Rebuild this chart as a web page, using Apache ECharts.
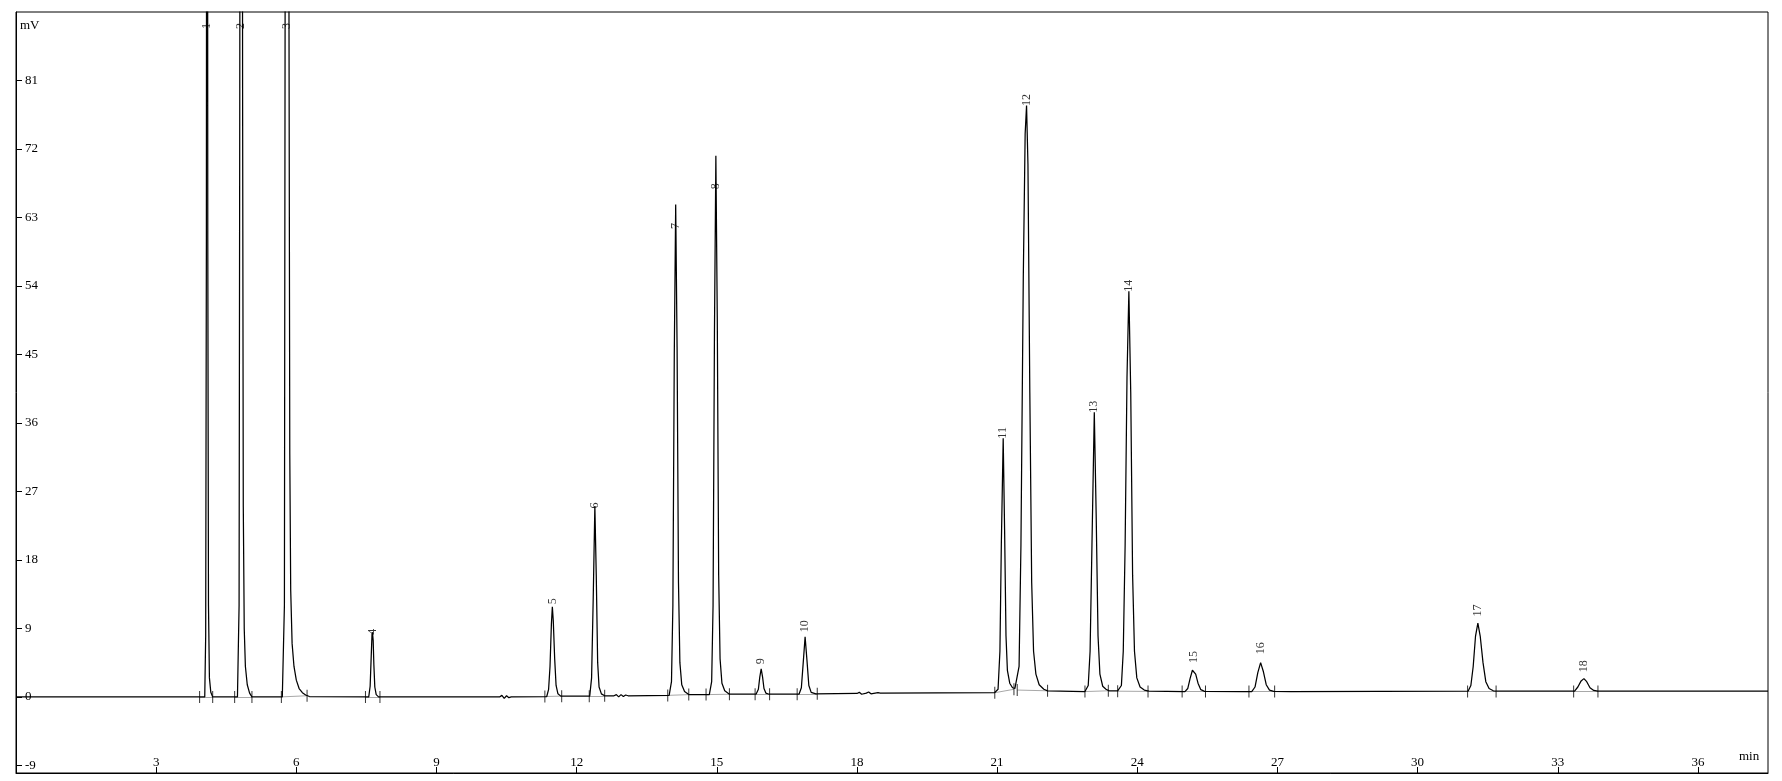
<!DOCTYPE html>
<html><head><meta charset="utf-8">
<script src="https://cdn.jsdelivr.net/npm/echarts@6/dist/echarts.min.js"></script>
<style>html,body{margin:0;padding:0;background:#fff}#c{width:1782px;height:781px}</style>
</head><body><div id="c"></div>
<script>
// detector signal: [retention time (min), signal (mV)]
const signal = [
[0,0],[3.9,0],[4.04,0],[4.06,8],[4.075,60],[4.09,260],[4.105,60],[4.12,12],[4.14,2.5],[4.17,0.6],[4.21,0],
[4.74,0],[4.775,12],[4.79,80],[4.82,300],[4.85,80],[4.865,25],[4.885,9],[4.91,4],[4.95,1.6],[5.0,0.5],[5.05,0],
[5.70,0],[5.745,12],[5.76,90],[5.80,420],[5.84,100],[5.86,32],[5.88,14],[5.91,7],[5.95,4],[6.0,2.2],[6.06,1.1],[6.13,0.55],[6.2,0.25],[6.28,0.05],
[7.55,0],[7.58,1.4],[7.60,4.8],[7.62,8.2],[7.63,8.5],[7.645,7.4],[7.66,4.2],[7.68,1.3],[7.71,0.3],[7.76,0],
[10.35,0],[10.4,0.2],[10.45,-0.2],[10.5,0.15],[10.55,-0.1],[10.6,0],
[11.36,0.05],[11.40,1],[11.43,4],[11.46,9.6],[11.48,11.85],[11.50,10],[11.53,5],[11.56,1.5],[11.60,0.4],[11.66,0.1],
[12.28,0.1],[12.32,2.5],[12.355,13],[12.39,25.1],[12.42,16],[12.45,4.5],[12.48,1.3],[12.53,0.4],[12.6,0.15],
[12.8,0.15],[12.85,0.3],[12.9,0.0],[12.95,0.3],[13.0,0.05],[13.05,0.25],[13.1,0.15],
[13.98,0.2],[14.03,2],[14.06,12],[14.09,45],[14.12,64.7],[14.15,46],[14.18,15],[14.21,4.5],[14.25,1.6],[14.31,0.7],[14.40,0.3],
[14.84,0.3],[14.89,2],[14.92,12],[14.95,48],[14.98,71.1],[15.01,50],[15.04,16],[15.07,5],[15.11,1.8],[15.17,0.8],[15.27,0.35],
[15.84,0.35],[15.89,1],[15.92,2.6],[15.95,3.7],[15.98,2.6],[16.01,1.1],[16.05,0.5],[16.12,0.35],
[16.76,0.35],[16.81,1.2],[16.85,4.5],[16.89,7.9],[16.93,4.8],[16.97,1.5],[17.02,0.6],[17.12,0.4],
[18.0,0.45],[18.05,0.6],[18.1,0.35],[18.2,0.5],[18.25,0.65],[18.3,0.4],[18.45,0.55],[18.5,0.5],
[20.95,0.57],[21.02,1],[21.06,6],[21.09,20],[21.13,34],[21.16,22],[21.19,8],[21.22,3.5],[21.27,1.8],[21.33,1.2],[21.38,1.1],
[21.42,1.2],[21.47,4],[21.51,20],[21.56,55],[21.60,74],[21.63,77.7],[21.66,70],[21.70,40],[21.74,15],[21.78,6],[21.83,3],[21.90,1.6],[22.0,1.0],[22.08,0.8],
[22.88,0.7],[22.95,1.5],[22.99,6],[23.03,20],[23.08,37.4],[23.12,24],[23.16,8],[23.20,3],[23.26,1.4],[23.33,1.0],[23.40,0.8],
[23.58,0.8],[23.66,1.5],[23.70,6],[23.74,20],[23.78,42],[23.82,53.3],[23.86,40],[23.90,16],[23.94,6],[23.99,2.5],[24.06,1.3],[24.15,0.9],[24.25,0.75],
[25.02,0.7],[25.08,1.1],[25.13,2.4],[25.18,3.5],[25.21,3.6],[25.25,3.0],[25.30,1.8],[25.36,0.95],[25.44,0.72],
[26.27,0.7],[26.28,0.5],[26.29,0.7],
[26.45,0.7],[26.52,1.3],[26.58,3.2],[26.64,4.5],[26.70,3.3],[26.76,1.6],[26.83,0.9],[26.92,0.72],
[27.29,0.7],[27.3,0.55],[27.31,0.7],
[31.08,0.75],[31.14,1.5],[31.19,4],[31.24,8],[31.29,9.7],[31.34,8],[31.40,4.5],[31.46,2],[31.53,1.1],[31.62,0.8],[31.7,0.75],
[33.36,0.75],[33.43,1.3],[33.50,2.1],[33.56,2.4],[33.62,2.0],[33.69,1.2],[33.77,0.85],[33.86,0.75],
[37.5,0.75]
];

// peak table
const peakNo     = [1,2,3,4,5,6,7,8,9,10,11,12,13,14,15,16,17,18];
const peakTime   = [4.09,4.82,5.80,7.63,11.48,12.39,14.12,14.98,15.95,16.89,21.13,21.63,23.08,23.82,25.21,26.64,31.29,33.56];
const peakHeight = [260,300,420,8.5,11.85,25.1,64.7,71.1,3.7,7.9,34,77.7,37.4,53.3,3.6,4.5,9.7,2.4];
const startTime  = [3.93,4.68,5.68,7.48,11.32,12.27,13.95,14.77,15.82,16.72,20.95,21.43,22.88,23.58,24.96,26.39,31.07,33.34];
const startLevel = [0,0,0,0,0.05,0.1,0.2,0.3,0.35,0.35,0.55,0.9,0.7,0.75,0.7,0.7,0.72,0.72];
const endTime    = [4.21,5.05,6.23,7.79,11.68,12.60,14.40,15.27,16.13,17.15,21.36,22.08,23.38,24.23,25.46,26.94,31.68,33.86];
const endLevel   = [0,0,0.15,0,0.1,0.15,0.3,0.35,0.35,0.4,1.0,0.8,0.8,0.72,0.7,0.7,0.72,0.72];

const xTicks = [3,6,9,12,15,18,21,24,27,30,33,36];
const yTicks = [-9,0,9,18,27,36,45,54,63,72,81];

// ---- styling ----
const FONT = 'Liberation Serif';
const Y_MIN = -10, Y_MAX = 90, X_MIN = 0, X_MAX = 37.5;
const labelTop = 87.7;
const labelGap = {4:-3,5:2,6:-3,7:-25,8:-34,9:4,10:4,15:6,16:8,17:6,18:6};

const labelData = peakNo.map((n, i) => ({
  value: [peakTime[i], Math.min(peakHeight[i], labelTop)],
  name: String(n),
  label: { distance: peakHeight[i] > Y_MAX ? 0 : (labelGap[n] !== undefined ? labelGap[n] : -1) }
}));
const tickMarks = [];
startTime.forEach((t, i) => { tickMarks.push([t, startLevel[i]]); tickMarks.push([endTime[i], endLevel[i]]); });
const baseSegs = startTime.map((t, i) => ({ coords: [[t, startLevel[i]], [endTime[i], endLevel[i]]] }));

const chart = echarts.init(document.getElementById('c'), null, { renderer: 'canvas' });
chart.setOption({
  animation: false,
  backgroundColor: '#fff',
  grid: { left: 16, right: 14, top: 12, bottom: 8, show: true, borderColor: '#000', borderWidth: 1, backgroundColor: 'transparent' },
  xAxis: {
    type: 'value', min: X_MIN, max: X_MAX,
    axisLine: { show: true, onZero: false, lineStyle: { color: '#000', width: 1 } },
    axisTick: { show: true, inside: true, length: 6, lineStyle: { color: '#000' }, customValues: xTicks },
    axisLabel: { inside: true, margin: 4, color: '#000', fontFamily: FONT, fontSize: 13, customValues: xTicks },
    splitLine: { show: false }
  },
  yAxis: {
    type: 'value', min: Y_MIN, max: Y_MAX,
    axisLine: { show: true, onZero: false, lineStyle: { color: '#000', width: 1 } },
    axisTick: { show: true, inside: true, length: 6, lineStyle: { color: '#000' }, customValues: yTicks },
    axisLabel: { inside: true, margin: 9, color: '#000', fontFamily: FONT, fontSize: 13, customValues: yTicks },
    splitLine: { show: false }
  },
  graphic: [
    { type: 'text', left: 20, top: 19, style: { text: 'mV', fill: '#000', font: '13px "Liberation Serif"' } },
    { type: 'text', left: 1739, top: 750, style: { text: 'min', fill: '#000', font: '13px "Liberation Serif"' } }
  ],
  series: [
    {
      type: 'lines', coordinateSystem: 'cartesian2d', z: 1, silent: true,
      lineStyle: { color: '#a8a8a8', width: 1, opacity: 1 },
      data: baseSegs
    },
    {
      type: 'line', z: 2, data: signal, showSymbol: false, symbol: 'none', clip: true,
      lineStyle: { color: '#000', width: 1.25 }, smooth: false
    },
    {
      type: 'scatter', z: 3, data: tickMarks, symbol: 'rect', symbolSize: [1, 12],
      itemStyle: { color: '#000' }, silent: true
    },
    {
      type: 'scatter', z: 4, data: labelData, symbolSize: 1,
      itemStyle: { color: 'rgba(0,0,0,0)' }, silent: true,
      label: {
        show: true, position: 'top', rotate: 90, align: 'left', verticalAlign: 'middle',
        formatter: p => p.name, color: '#000', fontFamily: FONT, fontSize: 12
      }
    }
  ]
});
</script>
</body></html>
